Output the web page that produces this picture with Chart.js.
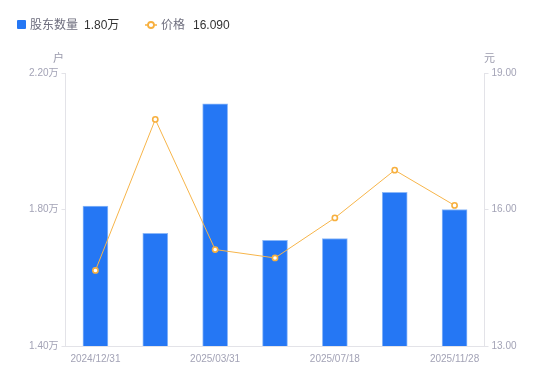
<!DOCTYPE html>
<html>
<head>
<meta charset="utf-8">
<script src="https://cdn.jsdelivr.net/npm/chart.js@4"></script>
<style>
  html,body{margin:0;padding:0;background:#fff;}
  #wrap{position:relative;width:550px;height:381px;font-family:"Liberation Sans","Noto Sans CJK SC",sans-serif;}
  canvas{position:absolute;left:0;top:0;}
  .lg{position:absolute;top:16px;font-size:12px;line-height:16px;white-space:nowrap;}
  .lg .n{color:#6e6e7e;font-family:"Noto Sans CJK SC",sans-serif;}
  .lg .v{color:#333;margin-left:6px;}
  .sq{position:absolute;left:17px;top:20px;width:9px;height:9px;background:#2577F4;border-radius:1px;}
  .unit{position:absolute;top:49px;font-size:11px;color:#9a9aac;font-family:"Noto Sans CJK SC",sans-serif;}
</style>
</head>
<body>
<div id="wrap">
  <canvas id="c" width="550" height="381"></canvas>
  <div class="sq"></div>
  <div class="lg" style="left:30px"><span class="n">股东数量</span><span class="v">1.80万</span></div>
  <svg style="position:absolute;left:145px;top:19px" width="12" height="12"><line x1="0" y1="6" x2="12" y2="6" stroke="#F7B03F" stroke-width="1.5"/><circle cx="6" cy="6" r="3" fill="#fff" stroke="#F7B03F" stroke-width="1.8"/></svg>
  <div class="lg" style="left:161px"><span class="n">价格</span><span class="v" style="margin-left:8px">16.090</span></div>
  <div class="unit" style="left:53px">户</div>
  <div class="unit" style="left:484px">元</div>
</div>
<script>
const categories = ["2024/12/31","2025/02/28","2025/03/31","2025/06/30","2025/07/18","2025/09/30","2025/11/28"];
const holders = [1.81, 1.73, 2.11, 1.71, 1.715, 1.85, 1.80];
const prices = [14.66, 17.98, 15.12, 14.935, 15.815, 16.865, 16.09];
const leftTicks = [1.40, 1.80, 2.20];
const rightTicks = [13.00, 16.00, 19.00];

const axisColor = '#e3e3e8';
const labelColor = '#a3a3b6';
const tickFont = {family:'"Liberation Sans","Noto Sans CJK SC",sans-serif', size:10};

new Chart(document.getElementById('c'), {
  data: {
    labels: categories,
    datasets: [
      {type:'line', label:'价格', data:prices, yAxisID:'yR', order:0,
       borderColor:'#F7B54A', borderWidth:1, tension:0,
       pointRadius:2.6, pointBorderWidth:1.6, pointBackgroundColor:'#fff', pointBorderColor:'#F7B03F'},
      {type:'bar', label:'股东数量', data:holders, yAxisID:'yL', order:1,
       backgroundColor:'#2577F4', borderColor:'#8CB8F8', borderWidth:1, barThickness:25}
    ]
  },
  options: {
    responsive:false, animation:false,
    layout:{padding:{left:0,right:0,top:73,bottom:0}},
    plugins:{legend:{display:false}, tooltip:{enabled:false}},
    scales:{
      x:{
        offset:true,
        grid:{display:true, drawOnChartArea:false, drawTicks:false, color:axisColor},
        border:{display:true, color:axisColor},
        ticks:{autoSkip:false, maxRotation:0, color:labelColor, font:tickFont, padding:7,
          callback:function(v,i){return i%2===0 ? categories[i] : '';}},
        afterFit:function(s){s.height=35;}
      },
      yL:{
        position:'left', min:leftTicks[0], max:leftTicks[leftTicks.length-1],
        afterBuildTicks:function(s){s.ticks=leftTicks.map(v=>({value:v}));},
        grid:{drawOnChartArea:false, drawTicks:true, tickLength:4, color:axisColor},
        border:{display:true, color:axisColor},
        ticks:{color:labelColor, font:tickFont, padding:3, callback:v=>v.toFixed(2)+'万'},
        afterFit:function(s){s.width=65.5;}
      },
      yR:{
        position:'right', min:rightTicks[0], max:rightTicks[rightTicks.length-1],
        afterBuildTicks:function(s){s.ticks=rightTicks.map(v=>({value:v}));},
        grid:{drawOnChartArea:false, drawTicks:true, tickLength:4, color:axisColor},
        border:{display:true, color:axisColor},
        ticks:{color:labelColor, font:tickFont, padding:3, callback:v=>v.toFixed(2)},
        afterFit:function(s){s.width=65.5;}
      }
    }
  }
});
</script>
</body>
</html>
